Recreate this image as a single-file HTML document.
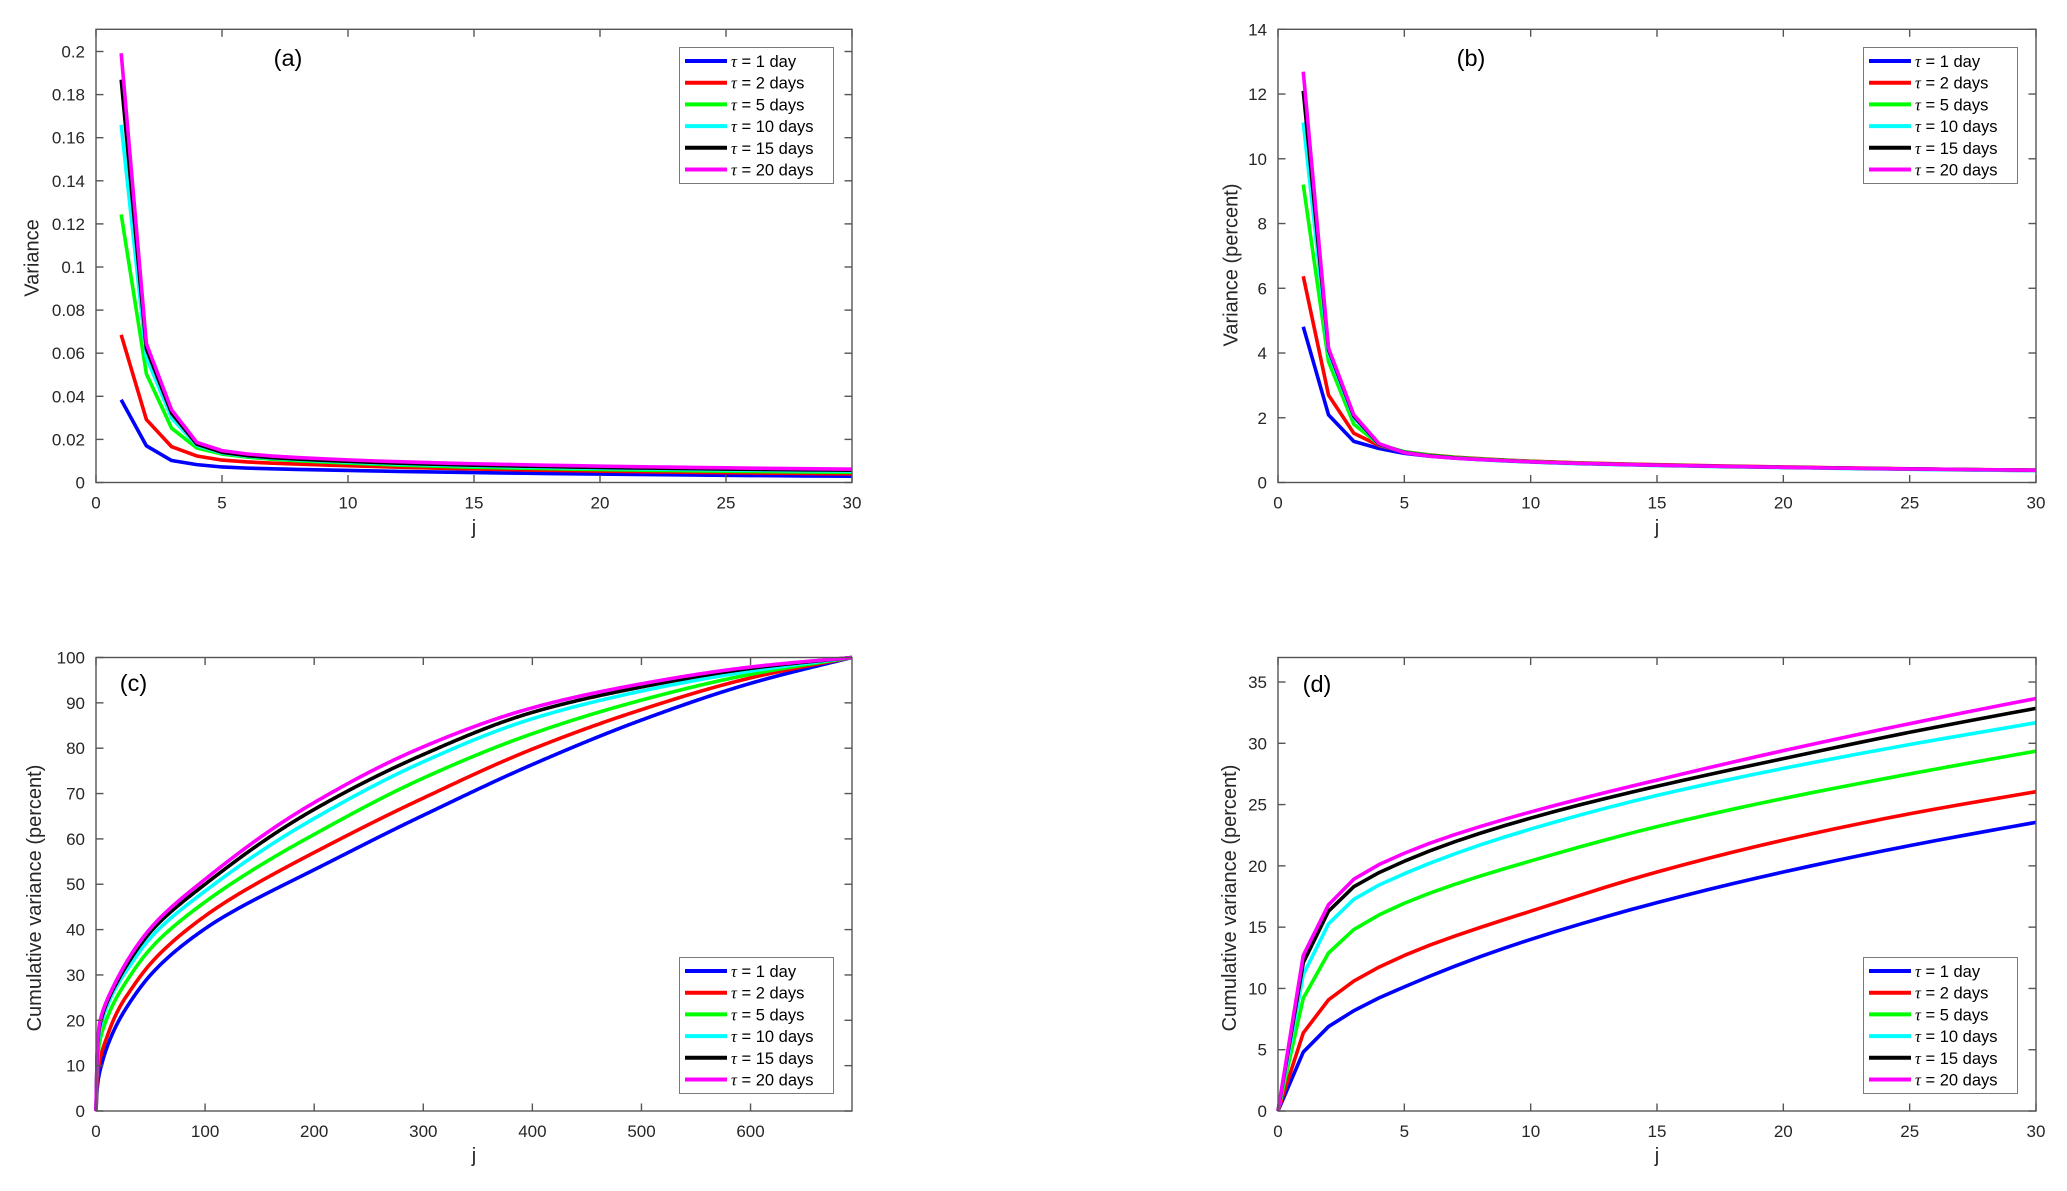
<!DOCTYPE html>
<html>
<head>
<meta charset="utf-8">
<style>
html,body{margin:0;padding:0;background:#fff;}
svg{display:block;}
text{font-family:"Liberation Sans",Arial,sans-serif;fill:#262626;}
.tk{font-size:17px;}
.lab{font-size:20px;}
.pl{font-size:23.5px;fill:#000;}
.leg{font-size:16.5px;fill:#000;}
.tau{font-family:"Liberation Serif","Times New Roman",serif;font-style:italic;}
</style>
</head>
<body>
<svg id="fig" width="2067" height="1191" viewBox="0 0 2067 1191" xmlns="http://www.w3.org/2000/svg">
<rect x="0" y="0" width="2067" height="1191" fill="#fff"/>
<g id="data"></g>
<g id="axes"></g>

<!-- Panel (a) text -->
<g class="tk" text-anchor="end">
<text x="85" y="488.5">0</text>
<text x="85" y="445.4">0.02</text>
<text x="85" y="402.3">0.04</text>
<text x="85" y="359.2">0.06</text>
<text x="85" y="316.1">0.08</text>
<text x="85" y="273.0">0.1</text>
<text x="85" y="229.9">0.12</text>
<text x="85" y="186.8">0.14</text>
<text x="85" y="143.7">0.16</text>
<text x="85" y="100.6">0.18</text>
<text x="85" y="57.5">0.2</text>
</g>
<g class="tk" text-anchor="middle">
<text x="96" y="508.5">0</text>
<text x="222" y="508.5">5</text>
<text x="348" y="508.5">10</text>
<text x="474" y="508.5">15</text>
<text x="600" y="508.5">20</text>
<text x="726" y="508.5">25</text>
<text x="852" y="508.5">30</text>
</g>
<text class="lab" x="474" y="534" text-anchor="middle">j</text>
<text class="lab" text-anchor="middle" transform="translate(38.6,258) rotate(-90)">Variance</text>
<text class="pl" x="288" y="66" text-anchor="middle">(a)</text>

<!-- Panel (b) text -->
<g class="tk" text-anchor="end">
<text x="1267" y="488.5">0</text>
<text x="1267" y="423.8">2</text>
<text x="1267" y="359.1">4</text>
<text x="1267" y="294.3">6</text>
<text x="1267" y="229.6">8</text>
<text x="1267" y="164.9">10</text>
<text x="1267" y="100.2">12</text>
<text x="1267" y="35.5">14</text>
</g>
<g class="tk" text-anchor="middle">
<text x="1278" y="508.5">0</text>
<text x="1404.3" y="508.5">5</text>
<text x="1530.7" y="508.5">10</text>
<text x="1657" y="508.5">15</text>
<text x="1783.3" y="508.5">20</text>
<text x="1909.7" y="508.5">25</text>
<text x="2036" y="508.5">30</text>
</g>
<text class="lab" x="1657" y="534" text-anchor="middle">j</text>
<text class="lab" text-anchor="middle" transform="translate(1237.5,265) rotate(-90)">Variance (percent)</text>
<text class="pl" x="1471" y="66" text-anchor="middle">(b)</text>

<!-- Panel (c) text -->
<g class="tk" text-anchor="end">
<text x="85" y="1117">0</text>
<text x="85" y="1071.6">10</text>
<text x="85" y="1026.3">20</text>
<text x="85" y="980.9">30</text>
<text x="85" y="935.6">40</text>
<text x="85" y="890.2">50</text>
<text x="85" y="844.9">60</text>
<text x="85" y="799.5">70</text>
<text x="85" y="754.2">80</text>
<text x="85" y="708.8">90</text>
<text x="85" y="663.5">100</text>
</g>
<g class="tk" text-anchor="middle">
<text x="96" y="1137">0</text>
<text x="205.1" y="1137">100</text>
<text x="314.2" y="1137">200</text>
<text x="423.3" y="1137">300</text>
<text x="532.4" y="1137">400</text>
<text x="641.5" y="1137">500</text>
<text x="750.5" y="1137">600</text>
</g>
<text class="lab" x="474" y="1162" text-anchor="middle">j</text>
<text class="lab" text-anchor="middle" transform="translate(41,898) rotate(-90)">Cumulative variance (percent)</text>
<text class="pl" x="133.5" y="691" text-anchor="middle">(c)</text>

<!-- Panel (d) text -->
<g class="tk" text-anchor="end">
<text x="1267" y="1117">0</text>
<text x="1267" y="1055.7">5</text>
<text x="1267" y="994.4">10</text>
<text x="1267" y="933.1">15</text>
<text x="1267" y="871.9">20</text>
<text x="1267" y="810.6">25</text>
<text x="1267" y="749.3">30</text>
<text x="1267" y="688.0">35</text>
</g>
<g class="tk" text-anchor="middle">
<text x="1278" y="1137">0</text>
<text x="1404.3" y="1137">5</text>
<text x="1530.7" y="1137">10</text>
<text x="1657" y="1137">15</text>
<text x="1783.3" y="1137">20</text>
<text x="1909.7" y="1137">25</text>
<text x="2036" y="1137">30</text>
</g>
<text class="lab" x="1657" y="1162" text-anchor="middle">j</text>
<text class="lab" text-anchor="middle" transform="translate(1236,898) rotate(-90)">Cumulative variance (percent)</text>
<text class="pl" x="1317" y="692" text-anchor="middle">(d)</text>

<!-- Legends -->
<g transform="translate(679,47)">
<rect x="0.5" y="0.5" width="154" height="136" fill="#fff" stroke="#7a7a7a" stroke-width="1"/>
<line x1="6" y1="14" x2="48" y2="14" stroke="#0000ff" stroke-width="4"/>
<line x1="6" y1="35.7" x2="48" y2="35.7" stroke="#ff0000" stroke-width="4"/>
<line x1="6" y1="57.4" x2="48" y2="57.4" stroke="#00ff00" stroke-width="4"/>
<line x1="6" y1="79.1" x2="48" y2="79.1" stroke="#00ffff" stroke-width="4"/>
<line x1="6" y1="100.8" x2="48" y2="100.8" stroke="#000000" stroke-width="4"/>
<line x1="6" y1="122.5" x2="48" y2="122.5" stroke="#ff00ff" stroke-width="4"/>
<text class="leg" x="52" y="20"><tspan class="tau">τ</tspan> = 1 day</text>
<text class="leg" x="52" y="41.7"><tspan class="tau">τ</tspan> = 2 days</text>
<text class="leg" x="52" y="63.4"><tspan class="tau">τ</tspan> = 5 days</text>
<text class="leg" x="52" y="85.1"><tspan class="tau">τ</tspan> = 10 days</text>
<text class="leg" x="52" y="106.8"><tspan class="tau">τ</tspan> = 15 days</text>
<text class="leg" x="52" y="128.5"><tspan class="tau">τ</tspan> = 20 days</text>
</g>
<g transform="translate(1863,47)">
<rect x="0.5" y="0.5" width="154" height="136" fill="#fff" stroke="#7a7a7a" stroke-width="1"/>
<line x1="6" y1="14" x2="48" y2="14" stroke="#0000ff" stroke-width="4"/>
<line x1="6" y1="35.7" x2="48" y2="35.7" stroke="#ff0000" stroke-width="4"/>
<line x1="6" y1="57.4" x2="48" y2="57.4" stroke="#00ff00" stroke-width="4"/>
<line x1="6" y1="79.1" x2="48" y2="79.1" stroke="#00ffff" stroke-width="4"/>
<line x1="6" y1="100.8" x2="48" y2="100.8" stroke="#000000" stroke-width="4"/>
<line x1="6" y1="122.5" x2="48" y2="122.5" stroke="#ff00ff" stroke-width="4"/>
<text class="leg" x="52" y="20"><tspan class="tau">τ</tspan> = 1 day</text>
<text class="leg" x="52" y="41.7"><tspan class="tau">τ</tspan> = 2 days</text>
<text class="leg" x="52" y="63.4"><tspan class="tau">τ</tspan> = 5 days</text>
<text class="leg" x="52" y="85.1"><tspan class="tau">τ</tspan> = 10 days</text>
<text class="leg" x="52" y="106.8"><tspan class="tau">τ</tspan> = 15 days</text>
<text class="leg" x="52" y="128.5"><tspan class="tau">τ</tspan> = 20 days</text>
</g>
<g transform="translate(679,957)">
<rect x="0.5" y="0.5" width="154" height="136" fill="#fff" stroke="#7a7a7a" stroke-width="1"/>
<line x1="6" y1="14" x2="48" y2="14" stroke="#0000ff" stroke-width="4"/>
<line x1="6" y1="35.7" x2="48" y2="35.7" stroke="#ff0000" stroke-width="4"/>
<line x1="6" y1="57.4" x2="48" y2="57.4" stroke="#00ff00" stroke-width="4"/>
<line x1="6" y1="79.1" x2="48" y2="79.1" stroke="#00ffff" stroke-width="4"/>
<line x1="6" y1="100.8" x2="48" y2="100.8" stroke="#000000" stroke-width="4"/>
<line x1="6" y1="122.5" x2="48" y2="122.5" stroke="#ff00ff" stroke-width="4"/>
<text class="leg" x="52" y="20"><tspan class="tau">τ</tspan> = 1 day</text>
<text class="leg" x="52" y="41.7"><tspan class="tau">τ</tspan> = 2 days</text>
<text class="leg" x="52" y="63.4"><tspan class="tau">τ</tspan> = 5 days</text>
<text class="leg" x="52" y="85.1"><tspan class="tau">τ</tspan> = 10 days</text>
<text class="leg" x="52" y="106.8"><tspan class="tau">τ</tspan> = 15 days</text>
<text class="leg" x="52" y="128.5"><tspan class="tau">τ</tspan> = 20 days</text>
</g>
<g transform="translate(1863,957)">
<rect x="0.5" y="0.5" width="154" height="136" fill="#fff" stroke="#7a7a7a" stroke-width="1"/>
<line x1="6" y1="14" x2="48" y2="14" stroke="#0000ff" stroke-width="4"/>
<line x1="6" y1="35.7" x2="48" y2="35.7" stroke="#ff0000" stroke-width="4"/>
<line x1="6" y1="57.4" x2="48" y2="57.4" stroke="#00ff00" stroke-width="4"/>
<line x1="6" y1="79.1" x2="48" y2="79.1" stroke="#00ffff" stroke-width="4"/>
<line x1="6" y1="100.8" x2="48" y2="100.8" stroke="#000000" stroke-width="4"/>
<line x1="6" y1="122.5" x2="48" y2="122.5" stroke="#ff00ff" stroke-width="4"/>
<text class="leg" x="52" y="20"><tspan class="tau">τ</tspan> = 1 day</text>
<text class="leg" x="52" y="41.7"><tspan class="tau">τ</tspan> = 2 days</text>
<text class="leg" x="52" y="63.4"><tspan class="tau">τ</tspan> = 5 days</text>
<text class="leg" x="52" y="85.1"><tspan class="tau">τ</tspan> = 10 days</text>
<text class="leg" x="52" y="106.8"><tspan class="tau">τ</tspan> = 15 days</text>
<text class="leg" x="52" y="128.5"><tspan class="tau">τ</tspan> = 20 days</text>
</g>
</svg>
<script>
(function(){
var NS='http://www.w3.org/2000/svg';
var gData=document.getElementById('data');
var gAxes=document.getElementById('axes');
var COLORS=['#0000ff','#ff0000','#00ff00','#00ffff','#000000','#ff00ff'];
function mk(L,R,T,B,x0,x1,y0,y1){return {L:L,R:R,T:T,B:B,
  sx:function(v){return L+(v-x0)/(x1-x0)*(R-L);},
  sy:function(v){return B-(v-y0)/(y1-y0)*(B-T);}};}
var PA=mk(96,852,29.3,482.5,0,30,0,0.2103);
var PB=mk(1278,2036,29.3,482.5,0,30,0,14);
var PC=mk(96,852,657.5,1111,0,693,0,100);
var PD=mk(1278,2036,657.5,1111,0,30,0,37);

function pchip(xs,ys){
  var n=xs.length,h=[],d=[],m=new Array(n),i;
  for(i=0;i<n-1;i++){h[i]=xs[i+1]-xs[i];d[i]=(ys[i+1]-ys[i])/h[i];}
  m[0]=d[0];m[n-1]=d[n-2];
  for(i=1;i<n-1;i++){
    if(d[i-1]*d[i]<=0){m[i]=0;}
    else{var w1=2*h[i]+h[i-1],w2=h[i]+2*h[i-1];m[i]=(w1+w2)/(w1/d[i-1]+w2/d[i]);}
  }
  return function(x){
    var k=0;while(k<n-2&&x>xs[k+1])k++;
    var t=(x-xs[k])/h[k],t2=t*t,t3=t2*t;
    return (2*t3-3*t2+1)*ys[k]+(t3-2*t2+t)*h[k]*m[k]+(-2*t3+3*t2)*ys[k+1]+(t3-t2)*h[k]*m[k+1];
  };
}
function logInterp(js,vals){
  var f=pchip(js.map(Math.log),vals.map(Math.log));
  return function(j){return Math.exp(f(Math.log(j)));};
}
function addPath(parent,pts,color,w){
  var e=document.createElementNS(NS,'path');
  var s='M'+pts.map(function(p){return p[0].toFixed(2)+','+p[1].toFixed(2);}).join('L');
  e.setAttribute('d',s);e.setAttribute('fill','none');e.setAttribute('stroke',color);
  e.setAttribute('stroke-width',w);e.setAttribute('stroke-linejoin','round');
  e.setAttribute('stroke-linecap','butt');
  parent.appendChild(e);
}
function line(x1,y1,x2,y2,c,w){
  var e=document.createElementNS(NS,'line');
  e.setAttribute('x1',x1);e.setAttribute('y1',y1);e.setAttribute('x2',x2);e.setAttribute('y2',y2);
  e.setAttribute('stroke',c);e.setAttribute('stroke-width',w);
  gAxes.appendChild(e);
}
function axes(P,xt,yt){
  var c='#555',w=1.4,tl=7.5,i;
  for(i=0;i<xt.length;i++){var x=P.sx(xt[i]);line(x,P.B,x,P.B-tl,c,w);line(x,P.T,x,P.T+tl,c,w);}
  for(i=0;i<yt.length;i++){var y=P.sy(yt[i]);line(P.L,y,P.L+tl,y,c,w);line(P.R,y,P.R-tl,y,c,w);}
  var r=document.createElementNS(NS,'rect');
  r.setAttribute('x',P.L);r.setAttribute('y',P.T);r.setAttribute('width',P.R-P.L);r.setAttribute('height',P.B-P.T);
  r.setAttribute('fill','none');r.setAttribute('stroke',c);r.setAttribute('stroke-width',w);
  gAxes.appendChild(r);
}
function range(a,b,s){var r=[];for(var v=a;v<=b+1e-9;v+=s)r.push(Math.round(v*1000)/1000);return r;}

var KJ=[1,2,3,4,5,10,20,30];
var A=[
 [0.0384,0.0170,0.0102,0.0083,0.0072,0.0056,0.0039,0.0029],
 [0.0685,0.0292,0.0166,0.0123,0.0104,0.0078,0.0053,0.0040],
 [0.1244,0.0504,0.0252,0.0160,0.0132,0.0090,0.0060,0.0047],
 [0.1660,0.0580,0.0300,0.0172,0.0137,0.0095,0.0066,0.0053],
 [0.1869,0.0620,0.0322,0.0178,0.0140,0.0098,0.0070,0.0057],
 [0.1992,0.0644,0.0337,0.0186,0.0148,0.0105,0.0076,0.0062]];
var Bv=[
 [4.81,2.09,1.27,1.05,0.90,0.64,0.47,0.37],
 [6.37,2.70,1.52,1.14,0.95,0.66,0.48,0.38],
 [9.20,3.73,1.80,1.18,0.95,0.65,0.47,0.38],
 [11.12,4.00,2.00,1.17,0.93,0.63,0.46,0.37],
 [12.10,4.10,2.05,1.18,0.93,0.64,0.47,0.38],
 [12.69,4.15,2.09,1.20,0.92,0.64,0.47,0.38]];
var CJ=[1,2,3,4,5,10,15,20,25,30,50,100,200,300,400,500,600,693];
var Cv=[
 [4.81,6.89,8.18,9.23,10.13,14.0,17.0,19.5,21.65,23.55,30.0,40.2,53.2,65.2,76.4,86.2,94.3,100],
 [6.37,9.07,10.6,11.74,12.69,16.3,19.5,22.1,24.25,26.05,32.5,43.0,57.0,69.0,79.8,88.5,95.5,100],
 [9.2,12.9,14.8,16.0,16.95,20.4,23.2,25.5,27.5,29.36,35.8,46.1,61.0,73.4,83.2,90.6,96.3,100],
 [11.12,15.27,17.27,18.44,19.36,23.0,25.75,27.95,29.9,31.68,38.2,48.5,64.5,77.0,86.5,92.6,97.0,100],
 [12.1,16.3,18.3,19.45,20.38,23.9,26.5,28.75,30.9,32.85,39.5,50.0,66.5,78.6,87.9,93.5,97.6,100],
 [12.69,16.83,18.91,20.11,21.03,24.4,27.0,29.4,31.6,33.65,40.3,51.1,68.0,80.3,88.9,94.2,97.9,100]];

var W=3.6,s,j,pts,f;
for(s=0;s<6;s++){
  f=logInterp(KJ,A[s]);pts=[];
  for(j=1;j<=30;j++)pts.push([PA.sx(j),PA.sy(f(j))]);
  addPath(gData,pts,COLORS[s],W);
  f=logInterp(KJ,Bv[s]);pts=[];
  for(j=1;j<=30;j++)pts.push([PB.sx(j),PB.sy(f(j))]);
  addPath(gData,pts,COLORS[s],W);
  f=logInterp(CJ,Cv[s]);
  pts=[[PD.sx(0),PD.sy(0)]];
  for(j=1;j<=30;j++)pts.push([PD.sx(j),PD.sy(f(j))]);
  addPath(gData,pts,COLORS[s],W);
  pts=[[PC.sx(0),PC.sy(0)]];
  for(j=1;j<=693;j++)pts.push([PC.sx(j),PC.sy(Math.min(100,f(j)))]);
  addPath(gData,pts,COLORS[s],W);
}
axes(PA,range(0,30,5),range(0,0.2,0.02));
axes(PB,range(0,30,5),range(0,14,2));
axes(PC,range(0,600,100),range(0,100,10));
axes(PD,range(0,30,5),range(0,35,5));
})();
</script>
</body>
</html>
